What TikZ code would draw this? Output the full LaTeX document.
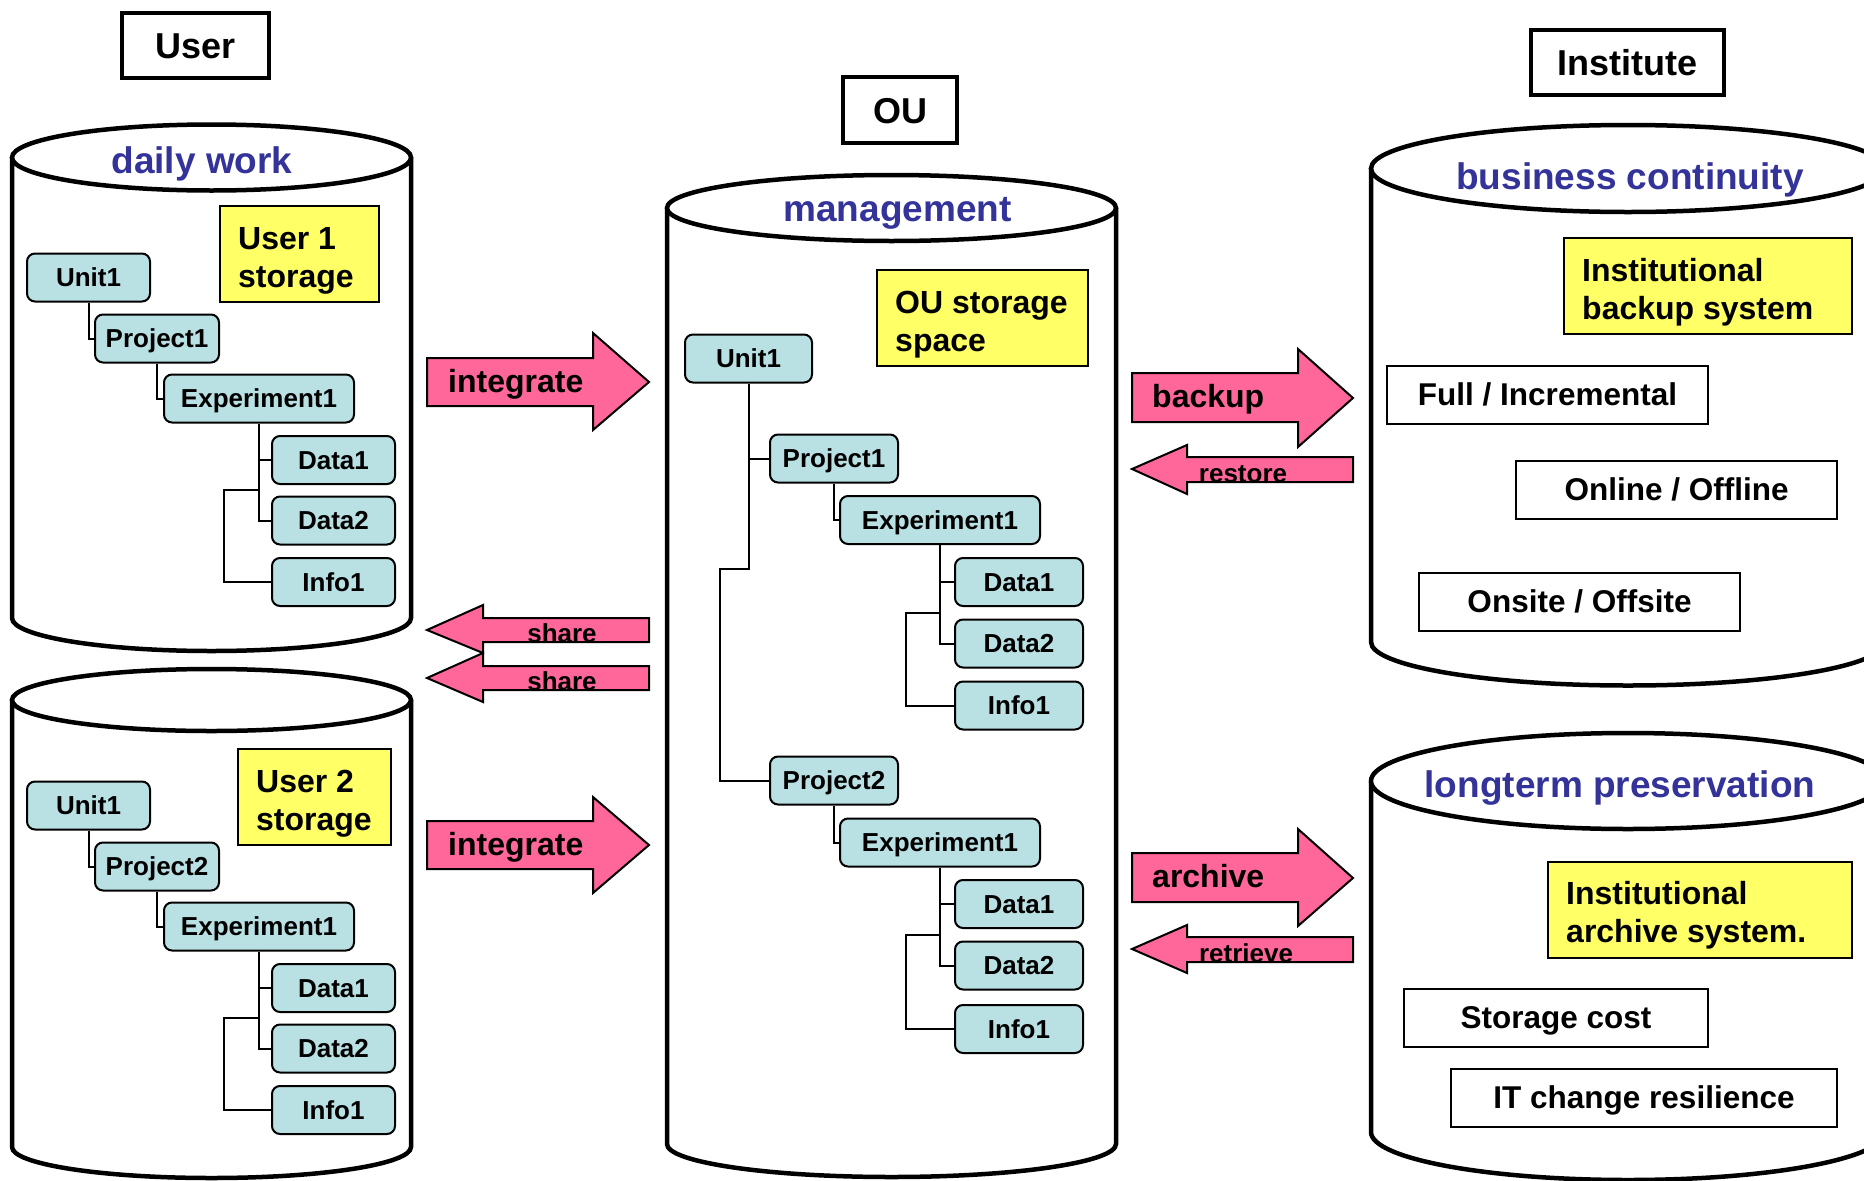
\documentclass[tikz,border=0pt]{standalone}
\usepackage{fontspec}
\setmainfont{Liberation Sans}
\definecolor{storeyellow}{HTML}{FFFF66}
\definecolor{treefill}{HTML}{B9E0E3}
\definecolor{flowpink}{HTML}{FF6699}
\definecolor{labelblue}{HTML}{333399}

% storage cylinder: centre x, x radius, top y, bottom y, y radius
\newcommand\drawcyl[5]{%
  \fill[white] ({#1-#2},#3) -- ({#1-#2},#4)
     arc[start angle=180,end angle=360,x radius=#2pt,y radius=#5pt]
     -- ({#1+#2},#3) -- cycle;
  \draw[cylline] ({#1-#2},#3) -- ({#1-#2},#4)
     arc[start angle=180,end angle=360,x radius=#2pt,y radius=#5pt]
     -- ({#1+#2},#3);
  \filldraw[cylline,fill=white] (#1,#3) ellipse[x radius=#2pt,y radius=#5pt];}

\begin{document}
\begin{tikzpicture}[x=1pt,y=-1pt,
  cylline/.style={line width=4.5,draw=black},
  titlebox/.style={draw,line width=4.5,inner sep=0,fill=white,
    text height=26.5pt,text depth=0pt,
    font=\fontsize{36}{43}\selectfont\bfseries},
  cyllabel/.style={text=labelblue,inner sep=0,anchor=base,
    font=\fontsize{37}{44}\selectfont\bfseries},
  tnode/.style={draw,line width=2,rounded corners=8,fill=treefill,inner sep=0,
    minimum height=48,text height=18pt,text depth=0pt,
    font=\fontsize{26}{31}\selectfont\bfseries},
  link/.style={line width=2},
  storebox/.style={draw,line width=2,fill=storeyellow,inner sep=0,minimum height=96},
  storetext/.style={inner sep=0,anchor=west,align=left,
    font=\fontsize{32}{38}\selectfont\bfseries},
  aspectbox/.style={draw,line width=2,fill=white,inner sep=0,minimum height=58,
    text height=21.5pt,text depth=0pt,
    font=\fontsize{31.5}{37}\selectfont\bfseries},
  flowarrow/.style={draw,line width=2,fill=flowpink,line join=miter},
  flowtext/.style={inner sep=0,anchor=base west,font=\fontsize{32}{38}\selectfont\bfseries},
  backtext/.style={inner sep=0,anchor=base,font=\fontsize{26}{31}\selectfont\bfseries}]

\useasboundingbox (0,0) rectangle (1864,1181);
\clip (0,0) rectangle (1864,1181);
\fill[white] (0,0) rectangle (1864,1181);

% ---------- titles ----------
\node[titlebox,minimum width=147,minimum height=65] (user) at (195.5,45.5) {User};
\node[titlebox,minimum width=114,minimum height=66] (ou) at (900,110) {OU};
\node[titlebox,minimum width=193,minimum height=65] (inst) at (1627.5,62.5) {Institute};

% ---------- cylinders ----------
\drawcyl{211.5}{199.5}{157.5}{618}{33}
\drawcyl{211.5}{199.5}{700}{1147}{31}
\drawcyl{891.5}{224.5}{208}{1144}{33}
\drawcyl{1628}{257}{168.5}{642}{43.5}
\drawcyl{1628}{257}{781}{1132}{48}

\node[cyllabel] (lab-daily) at (202,173) {daily work};
\node[cyllabel] (lab-mgmt) at (897.5,221) {management};
\node[cyllabel] (lab-bc) at (1630,189) {business continuity};
\node[cyllabel] (lab-lp) at (1620,797) {longterm preservation};

% ---------- user 1 storage ----------
\node[storebox,minimum width=159] (sa) at (299.5,254) {};
\node[storetext] (sa-t) at ([xshift=19,yshift=-6.5]sa.west) {User 1\\storage};
\node[tnode,minimum width=123] (a-u) at (88.5,277.5) {Unit1};
\node[tnode,minimum width=124] (a-p) at (157,338.5) {Project1};
\node[tnode,minimum width=190] (a-e) at (259,398.5) {Experiment1};
\node[tnode,minimum width=123] (a-d1) at (333.5,460) {Data1};
\node[tnode,minimum width=123] (a-d2) at (333.5,520.5) {Data2};
\node[tnode,minimum width=123] (a-i) at (333.5,582) {Info1};
\coordinate (a-br) at (223.5,490);
\draw[link] (a-u.south) |- (a-p.west);
\draw[link] (a-p.south) |- (a-e.west);
\draw[link] (a-e.south) |- (a-d1.west);
\draw[link] (a-e.south) |- (a-d2.west);
\draw[link] (a-e.south |- a-br) -- (a-br) |- (a-i.west);

% ---------- user 2 storage ----------
\node[storebox,minimum width=153] (sb) at (314.5,797) {};
\node[storetext] (sb-t) at ([xshift=19,yshift=-6.5]sb.west) {User 2\\storage};
\node[tnode,minimum width=123] (b-u) at (88.5,805.5) {Unit1};
\node[tnode,minimum width=124] (b-p) at (157,866.5) {Project2};
\node[tnode,minimum width=190] (b-e) at (259,926.5) {Experiment1};
\node[tnode,minimum width=123] (b-d1) at (333.5,988) {Data1};
\node[tnode,minimum width=123] (b-d2) at (333.5,1048.5) {Data2};
\node[tnode,minimum width=123] (b-i) at (333.5,1110) {Info1};
\coordinate (b-br) at (223.5,1018);
\draw[link] (b-u.south) |- (b-p.west);
\draw[link] (b-p.south) |- (b-e.west);
\draw[link] (b-e.south) |- (b-d1.west);
\draw[link] (b-e.south) |- (b-d2.west);
\draw[link] (b-e.south |- b-br) -- (b-br) |- (b-i.west);

% ---------- OU storage ----------
\node[storebox,minimum width=211] (sc) at (982.5,318) {};
\node[storetext] (sc-t) at ([xshift=19,yshift=-6.5]sc.west) {OU storage\\space};
\node[tnode,minimum width=127] (c-u) at (748.5,358.5) {Unit1};
\node[tnode,minimum width=128] (c-p1) at (834,458.5) {Project1};
\node[tnode,minimum width=200] (c-e1) at (940,520) {Experiment1};
\node[tnode,minimum width=128] (c-d1) at (1019,582) {Data1};
\node[tnode,minimum width=128] (c-d2) at (1019,643.5) {Data2};
\node[tnode,minimum width=128] (c-i1) at (1019,705.5) {Info1};
\node[tnode,minimum width=128] (c-p2) at (834,780.5) {Project2};
\node[tnode,minimum width=200] (c-e2) at (940,842.5) {Experiment1};
\node[tnode,minimum width=128] (c-d3) at (1019,904) {Data1};
\node[tnode,minimum width=128] (c-d4) at (1019,965.5) {Data2};
\node[tnode,minimum width=128] (c-i2) at (1019,1029) {Info1};
\coordinate (c-bend) at (720,569);
\coordinate (c-br1) at (906,612.5);
\coordinate (c-br2) at (906,935);
\draw[link] (c-u.south) |- (c-p1.west);
\draw[link] (c-u.south) |- (c-bend) |- (c-p2.west);
\draw[link] (c-p1.south) |- (c-e1.west);
\draw[link] (c-e1.south) |- (c-d1.west);
\draw[link] (c-e1.south) |- (c-d2.west);
\draw[link] (c-e1.south |- c-br1) -- (c-br1) |- (c-i1.west);
\draw[link] (c-p2.south) |- (c-e2.west);
\draw[link] (c-e2.south) |- (c-d3.west);
\draw[link] (c-e2.south) |- (c-d4.west);
\draw[link] (c-e2.south |- c-br2) -- (c-br2) |- (c-i2.west);

% ---------- institute: business continuity ----------
\node[storebox,minimum width=288] (sd) at (1708,286) {};
\node[storetext] (sd-t) at ([xshift=19,yshift=-6]sd.west) {Institutional\\backup system};
\node[aspectbox,minimum width=321] (full) at (1547.5,395) {Full / Incremental};
\node[aspectbox,minimum width=321] (online) at (1676.5,490) {Online / Offline};
\node[aspectbox,minimum width=321] (onsite) at (1579.5,602) {Onsite / Offsite};

% ---------- institute: longterm preservation ----------
\node[storebox,minimum width=304] (se) at (1700,910) {};
\node[storetext] (se-t) at ([xshift=19,yshift=-5]se.west) {Institutional\\archive system.};
\node[aspectbox,minimum width=304] (cost) at (1556,1018) {Storage cost};
\node[aspectbox,minimum width=386] (itres) at (1644,1098) {IT change resilience};

% ---------- flow arrows ----------
\filldraw[flowarrow] (427,358) -- (593,358) -- (593,333) -- (649,382)
  -- (593,430) -- (593,406) -- (427,406) -- cycle;
\node[flowtext] (f-int1) at (448,392) {integrate};
\filldraw[flowarrow] (427,821) -- (593,821) -- (593,797) -- (649,845)
  -- (593,893) -- (593,869) -- (427,869) -- cycle;
\node[flowtext] (f-int2) at (448,855) {integrate};

\filldraw[flowarrow] (649,618) -- (483,618) -- (483,605) -- (427,630)
  -- (483,653) -- (483,642) -- (649,642) -- cycle;
\node[backtext] (f-share1) at (562,642) {share};
\filldraw[flowarrow] (649,666) -- (483,666) -- (483,653) -- (427,678)
  -- (483,702) -- (483,690) -- (649,690) -- cycle;
\node[backtext] (f-share2) at (562,690) {share};

\filldraw[flowarrow] (1132,373) -- (1298,373) -- (1298,349) -- (1353,398)
  -- (1298,447) -- (1298,422) -- (1132,422) -- cycle;
\node[flowtext] (f-backup) at (1152,407) {backup};
\filldraw[flowarrow] (1353,457) -- (1187,457) -- (1187,445) -- (1132,469)
  -- (1187,494) -- (1187,482) -- (1353,482) -- cycle;
\node[backtext] (f-restore) at (1243,482) {restore};

\filldraw[flowarrow] (1132,853) -- (1298,853) -- (1298,829) -- (1353,878)
  -- (1298,926) -- (1298,902) -- (1132,902) -- cycle;
\node[flowtext] (f-archive) at (1152,887) {archive};
\filldraw[flowarrow] (1353,937) -- (1187,937) -- (1187,925) -- (1132,949)
  -- (1187,973) -- (1187,962) -- (1353,962) -- cycle;
\node[backtext] (f-retrieve) at (1246,962) {retrieve};

\end{tikzpicture}
\end{document}
